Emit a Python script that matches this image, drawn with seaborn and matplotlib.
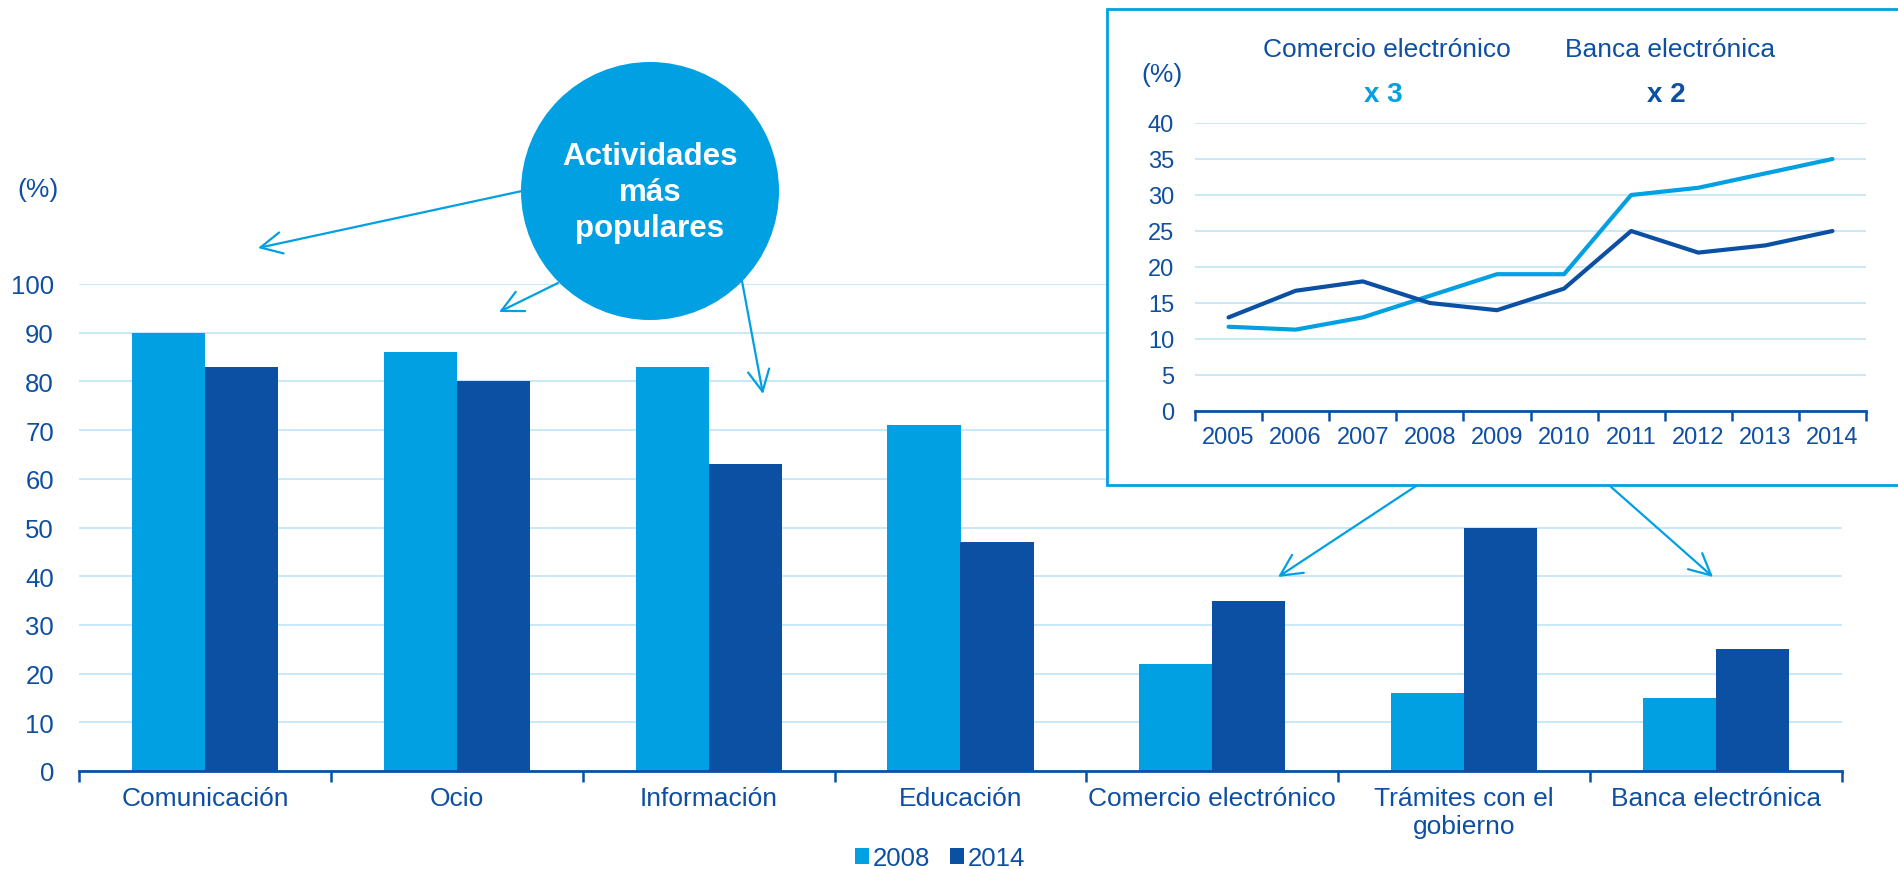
import numpy as np
import pandas as pd
import matplotlib
matplotlib.use("Agg")
import matplotlib.pyplot as plt
from matplotlib.patches import Rectangle, Ellipse
from matplotlib.ticker import FixedLocator
import seaborn as sns

# ---------------- data ----------------
categories = ["Comunicación", "Ocio", "Información", "Educación",
              "Comercio electrónico", "Trámites con el\ngobierno", "Banca electrónica"]
values_2008 = [90, 86, 83, 71, 22, 16, 15]
values_2014 = [83, 80, 63, 47, 35, 50, 25]
series_names = ["2008", "2014"]

years = [2005, 2006, 2007, 2008, 2009, 2010, 2011, 2012, 2013, 2014]
comercio = [11.7, 11.3, 13, 16, 19, 19, 30, 31, 33, 35]
banca = [13, 16.7, 18, 15, 14, 17, 25, 22, 23, 25]

main_yticks = [0, 10, 20, 30, 40, 50, 60, 70, 80, 90, 100]
inset_yticks = [0, 5, 10, 15, 20, 25, 30, 35, 40]

# ---------------- style ----------------
LIGHT = "#00A0E3"
DARK = "#0B50A3"
TEXT = "#0E4FA3"
GRID = "#C8E9F8"

sns.set_theme(style="white")
plt.rcParams["font.family"] = ["Liberation Sans", "DejaVu Sans"]

W, H = 1898, 870
fig = plt.figure(figsize=(W / 100, H / 100), dpi=100)

def fx(px):
    return px / W

def fy(py):  # image y (from top) -> figure fraction
    return 1 - py / H

# ---------------- main bar chart ----------------
ax = fig.add_axes([fx(79), fy(772), fx(1842 - 79), (772 - 285) / H])
ax.set_zorder(0)

df = pd.DataFrame({
    "cat": categories * 2,
    "val": values_2008 + values_2014,
    "year": [series_names[0]] * len(categories) + [series_names[1]] * len(categories),
})
sns.barplot(data=df, x="cat", y="val", hue="year", palette=[LIGHT, DARK],
            saturation=1, width=0.58, linewidth=0, ax=ax, errorbar=None)

handles, labels = ax.get_legend_handles_labels()
if ax.get_legend() is not None:
    ax.get_legend().remove()

ax.set_ylim(0, 100)
ax.set_xlim(-0.5, len(categories) - 0.5)
ax.set_xlabel("")
ax.set_ylabel("")
ax.set_yticks(main_yticks)
ax.yaxis.grid(True, color=GRID, linewidth=1.4)
ax.xaxis.grid(False)
ax.set_axisbelow(True)
for s in ["left", "right", "top"]:
    ax.spines[s].set_visible(False)
ax.spines["bottom"].set_color(DARK)
ax.spines["bottom"].set_linewidth(2.0)
ax.tick_params(axis="y", length=0, pad=18, labelsize=18.5, labelcolor=TEXT)
ax.tick_params(axis="x", which="major", bottom=True, length=0, pad=11,
               labelsize=19, labelcolor=TEXT)
ax.xaxis.set_minor_locator(FixedLocator(np.arange(-0.5, len(categories), 1.0)))
ax.tick_params(axis="x", which="minor", bottom=True, length=8, width=1.8,
               color=DARK, direction="out")
ax.set_facecolor("none")

fig.text(fx(38), fy(190), "(%)", ha="center", va="center", fontsize=19, color=TEXT)

# legend
fig.legend(handles, labels, loc="center", bbox_to_anchor=(fx(940), 11 / H),
           ncol=2, frameon=False, fontsize=18.5, labelcolor=TEXT,
           handlelength=0.55, handleheight=0.62, handletextpad=0.12,
           columnspacing=0.8, borderaxespad=0, borderpad=0)

# ---------------- inset box ----------------
rect = Rectangle((fx(1107), fy(486)), 0.5, (486 - 10) / H, transform=fig.transFigure,
                 facecolor="white", edgecolor=LIGHT, linewidth=2.0, zorder=1)
fig.add_artist(rect)

axin = fig.add_axes([fx(1195), fy(412), fx(1866 - 1195), (412 - 124) / H])
axin.set_zorder(2)
axin.set_facecolor("none")
sns.lineplot(x=years, y=comercio, color=LIGHT, linewidth=3.0, ax=axin,
             solid_capstyle="round", solid_joinstyle="round")
sns.lineplot(x=years, y=banca, color=DARK, linewidth=3.0, ax=axin,
             solid_capstyle="round", solid_joinstyle="round")
axin.set_ylim(0, 40)
axin.set_xlim(years[0] - 0.5, years[-1] + 0.5)
axin.set_yticks(inset_yticks)
axin.set_xticks(years)
axin.set_xticklabels([str(y) for y in years])
axin.yaxis.grid(True, color=GRID, linewidth=1.4)
axin.xaxis.grid(False)
axin.set_axisbelow(True)
for s in ["left", "right", "top"]:
    axin.spines[s].set_visible(False)
axin.spines["bottom"].set_color(DARK)
axin.spines["bottom"].set_linewidth(2.0)
axin.tick_params(axis="y", length=0, pad=15, labelsize=17, labelcolor=TEXT)
axin.tick_params(axis="x", which="major", bottom=True, length=0, pad=11,
                 labelsize=17, labelcolor=TEXT)
axin.xaxis.set_minor_locator(FixedLocator(np.arange(years[0] - 0.5, years[-1] + 1, 1.0)))
axin.tick_params(axis="x", which="minor", bottom=True, length=7, width=1.8,
                 color=DARK, direction="out")
axin.set_xlabel("")
axin.set_ylabel("")

fig.text(fx(1162), fy(75), "(%)", ha="center", va="center", fontsize=19, color=TEXT, zorder=5)
fig.text(fx(1387), fy(50), "Comercio electrónico", ha="center", va="center",
         fontsize=19, color=TEXT, zorder=5)
fig.text(fx(1670), fy(50), "Banca electrónica", ha="center", va="center",
         fontsize=19, color=TEXT, zorder=5)
fig.text(fx(1383), fy(95), "x 3", ha="center", va="center", fontsize=20,
         fontweight="bold", color=LIGHT, zorder=5)
fig.text(fx(1666), fy(95), "x 2", ha="center", va="center", fontsize=20,
         fontweight="bold", color=DARK, zorder=5)

# ---------------- arrows ----------------
arrows = [
    ((522, 192), (258, 249)),
    ((558, 284), (499, 313)),
    ((742, 282), (763, 395)),
    ((1416, 487), (1278, 578)),
    ((1610, 487), (1713, 578)),
]
for (x0, y0), (x1, y1) in arrows:
    ann = fig.add_artist(matplotlib.text.Annotation(
        "", xy=(x1, H - y1), xytext=(x0, H - y0),
        xycoords="figure pixels", textcoords="figure pixels",
        arrowprops=dict(arrowstyle="->,head_length=0.7,head_width=0.35",
                        color=LIGHT, lw=1.6, mutation_scale=22,
                        shrinkA=0, shrinkB=0)))
    ann.set_zorder(3)

# ---------------- bubble ----------------
circ = Ellipse((fx(650), fy(192)), 258 / W, 258 / H, transform=fig.transFigure,
               facecolor=LIGHT, edgecolor="none", zorder=4)
fig.add_artist(circ)
fig.text(fx(650), fy(193), "Actividades\nmás\npopulares", ha="center", va="center",
         fontsize=22.5, fontweight="bold", color="white", linespacing=1.25, zorder=6)

fig.savefig("out.png", dpi=100)
